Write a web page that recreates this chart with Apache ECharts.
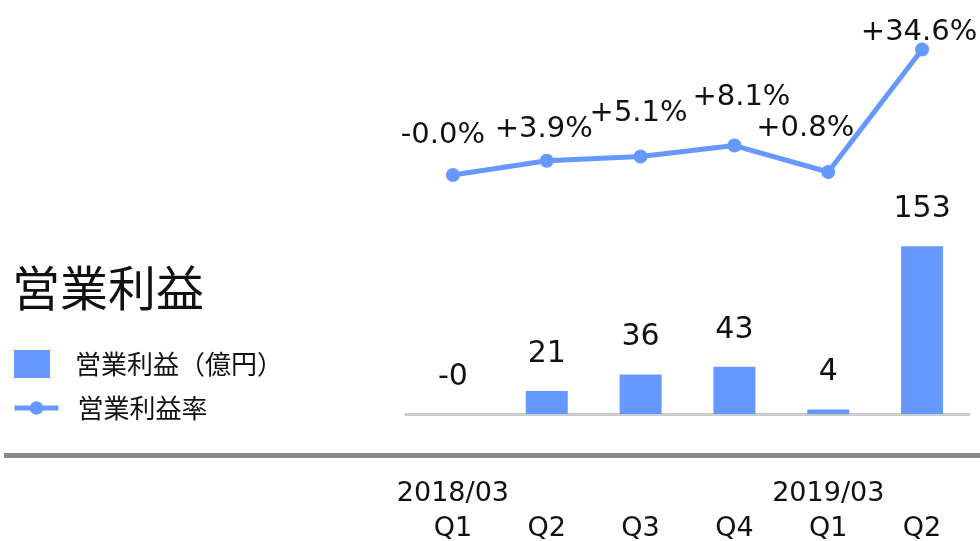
<!DOCTYPE html>
<html>
<head>
<meta charset="utf-8">
<title>営業利益</title>
<script src="https://cdn.jsdelivr.net/npm/echarts@6/dist/echarts.min.js"></script>
<style>
  html, body { margin: 0; padding: 0; background: #fff; }
  .chart { width: 980px; height: 541px; }
</style>
</head>
<body>
<div class="chart"></div>
<script>
var categories = ["2018/03\nQ1", "\nQ2", "\nQ3", "\nQ4", "2019/03\nQ1", "\nQ2"];
var profit = [-0.3, 21, 36, 43, 4, 153]; // 億円
var profitRate = [-0.02, 3.9, 5.1, 8.1, 0.8, 34.6]; // %

(function () {
  var myChart = echarts.init(document.querySelector(".chart"));
  var blue = "#6699ff";
  var font = "'DejaVu Sans', 'Noto Sans CJK JP', sans-serif";
  var jpFont = "'Noto Sans CJK JP', sans-serif";

  // ラベル位置の微調整（元画像に合わせる）
  var rateLabelOffset = [[-10, -13], [-3, -5], [-2, -16], [7, -22], [-23, -17], [-3, 9]];

  var rateData = profitRate.map(function (v, i) {
    return { value: v, label: { offset: rateLabelOffset[i] } };
  });

  var legendText = { fontFamily: jpFont, fontSize: 26, color: "#111" };

  myChart.setOption({
    animation: false,
    textStyle: { fontFamily: font },
    title: {
      text: "営業利益",
      left: 7,
      top: 259,
      textStyle: { fontFamily: jpFont, fontSize: 48, fontWeight: "normal", color: "#111" },
    },
    legend: [
      {
        orient: "vertical",
        left: 14,
        top: 350,
        padding: 0,
        itemWidth: 36,
        itemHeight: 28,
        selectedMode: false,
        textStyle: Object.assign({ padding: [0, 0, 0, 20] }, legendText),
        data: [{ name: "営業利益（億円）", icon: "rect" }],
      },
      {
        orient: "vertical",
        left: 12,
        top: 395,
        padding: 0,
        itemWidth: 44,
        itemHeight: 17,
        selectedMode: false,
        lineStyle: { width: 5 },
        textStyle: Object.assign({ padding: [0, 0, 0, 14] }, legendText),
        data: [{ name: "営業利益率" }],
      },
    ],
    grid: { left: 406, right: 11, top: 30, bottom: 127, outerBoundsMode: "none" },
    xAxis: {
      type: "category",
      data: categories,
      axisLine: { lineStyle: { color: "#cccccc", width: 3 } },
      axisTick: { show: false },
      axisLabel: {
        margin: 62,
        fontSize: 27,
        lineHeight: 35,
        color: "#111",
        interval: 0,
      },
    },
    yAxis: [
      { type: "value", min: 0, max: 350, show: false },
      { type: "value", min: -66, max: 40, show: false },
    ],
    series: [
      {
        name: "営業利益（億円）",
        type: "bar",
        data: profit,
        barWidth: 42,
        itemStyle: { color: blue },
        label: {
          show: true,
          position: "top",
          distance: 22,
          fontSize: 30,
          color: "#111",
          formatter: function (p) {
            return p.value < 0 ? "-" + Math.abs(p.value).toFixed(0) : p.value.toFixed(0);
          },
        },
      },
      {
        name: "営業利益率",
        type: "line",
        yAxisIndex: 1,
        data: rateData,
        symbol: "circle",
        symbolSize: 14,
        lineStyle: { color: blue, width: 5 },
        itemStyle: { color: blue },
        label: {
          show: true,
          position: "top",
          fontSize: 29,
          color: "#111",
          formatter: function (p) {
            var v = p.value;
            return (v < 0 ? "-" : "+") + Math.abs(v).toFixed(1) + "%";
          },
        },
        z: 3,
      },
    ],
    graphic: [
      {
        type: "line",
        shape: { x1: 4, y1: 455.5, x2: 980, y2: 455.5 },
        style: { stroke: "#888888", lineWidth: 5 },
      },
    ],
  });

  window.addEventListener("resize", function () {
    myChart.resize();
  });
})();
</script>
</body>
</html>
